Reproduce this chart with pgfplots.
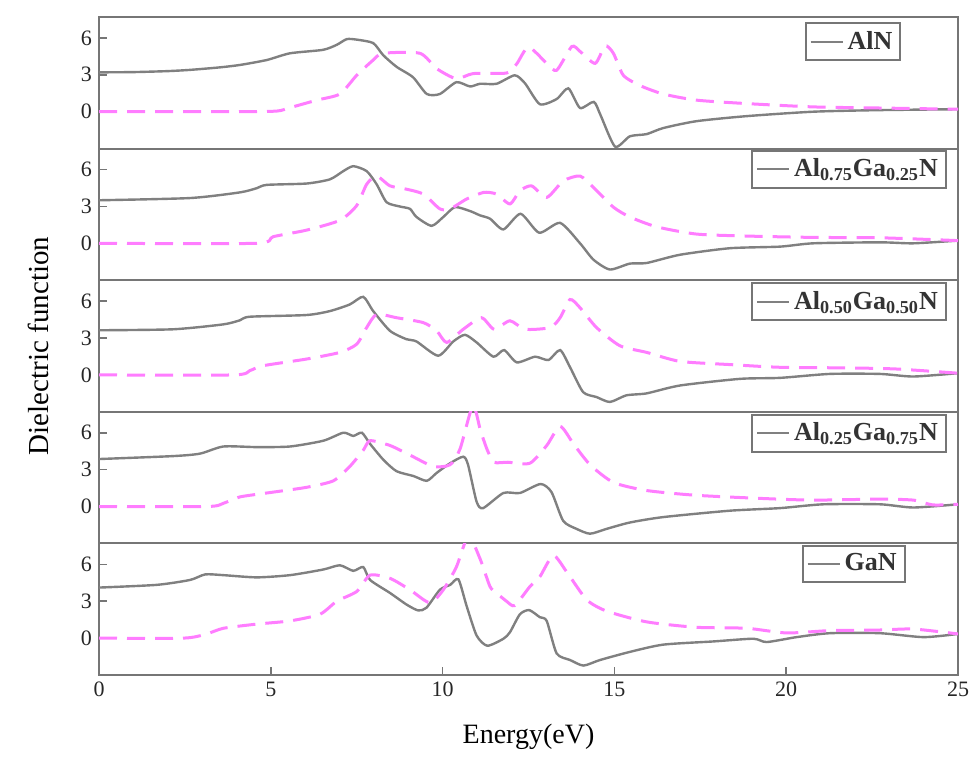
\documentclass[border=0pt]{standalone}
\usepackage{pgfplots}
\pgfplotsset{compat=1.18}
\usepgfplotslibrary{groupplots}
\usepackage{fontspec}
\setmainfont{Liberation Serif}
\definecolor{framegray}{RGB}{118,118,118}
\definecolor{solidgray}{RGB}{128,128,128}
\definecolor{lmag}{RGB}{255,125,255}
\pgfplotsset{
  solidline/.style={solidgray, line width=1.2pt, smooth, tension=0.4},
  dashline/.style={lmag, line width=1.5pt, dash pattern=on 9pt off 5pt, smooth, tension=0.4, forget plot},
}
\begin{document}
\begin{tikzpicture}
\begin{groupplot}[
  group style={group size=1 by 5, vertical sep=0pt, x descriptions at=edge bottom},
  width=429.5pt, height=65.8pt, scale only axis,
  xmin=0, xmax=25, ymin=-3, ymax=7.7,
  ytick={0,3,6}, xtick={0,5,10,15,20,25},
  tick align=inside, ytick pos=left, xtick pos=bottom,
  major tick length=4pt,
  axis line style={framegray, line width=1pt},
  tick style={framegray, line width=0.8pt},
  tick label style={font=\fontsize{11}{13}\selectfont, text=black!85},
  /pgf/number format/assume math mode=true,
  legend cell align=left,
  legend image code/.code={\draw[solidgray, line width=1pt] (0pt,0pt) -- (16pt,0pt);},
  legend style={draw=framegray, line width=1pt, font=\fontsize{13}{15}\selectfont\bfseries, text=black!80, anchor=north east, inner sep=2pt},
]
\nextgroupplot[xmajorticks=false, legend style={at={(rel axis cs:0.934,0.962)}}]
\addplot[solidline] coordinates {(0,3.2) (1,3.22) (2,3.3) (2.65,3.4) (3.5,3.6) (4.1,3.8) (4.88,4.2) (5.56,4.75) (6.52,5.03) (6.92,5.44) (7.21,5.9) (7.5,5.86) (7.98,5.58) (8.27,4.6) (8.66,3.65) (9.14,2.8) (9.54,1.44) (9.92,1.44) (10.4,2.4) (10.8,2.05) (11.09,2.27) (11.57,2.27) (12.1,2.96) (12.4,2.3) (12.83,0.61) (13.32,1.03) (13.66,1.9) (14.0,0.3) (14.4,0.8) (14.6,-0.3) (15.02,-2.84) (15.45,-2.0) (15.94,-1.82) (16.42,-1.33) (17.39,-0.77) (18.85,-0.36) (20.79,0) (22.73,0.13) (25,0.2)};
\addlegendentry{AlN}
\addplot[dashline] coordinates {(0,0) (2,0) (4,0) (5.17,0.05) (5.56,0.33) (6.34,0.94) (7.01,1.44) (7.5,2.96) (7.98,4.2) (8.27,4.75) (9.34,4.75) (9.83,3.5) (10.4,2.68) (10.89,3.1) (11.87,3.15) (12.16,3.9) (12.5,5.25) (13.03,3.93) (13.32,3.37) (13.76,5.3) (14.0,4.9) (14.44,3.93) (14.73,5.36) (14.97,4.75) (15.26,2.96) (15.74,2.13) (16.42,1.44) (17.39,0.94) (18.85,0.66) (20.79,0.39) (22.73,0.3) (25,0.2)};

\nextgroupplot[xmajorticks=false, legend style={at={(rel axis cs:0.987,0.99)}}]
\addplot[solidline] coordinates {(0,3.5) (2.65,3.68) (4.1,4.14) (4.59,4.48) (4.88,4.75) (6.04,4.86) (6.72,5.2) (7.11,5.87) (7.4,6.27) (7.79,5.87) (8.08,4.8) (8.37,3.34) (8.76,2.99) (9.05,2.8) (9.24,2.14) (9.68,1.42) (10.02,2.14) (10.36,2.94) (10.8,2.62) (11.09,2.27) (11.38,2.0) (11.77,1.13) (12.27,2.4) (12.81,0.86) (13.42,1.66) (14.0,0) (14.39,-1.33) (14.87,-2.13) (15.45,-1.65) (15.94,-1.6) (16.91,-0.93) (18.36,-0.4) (19.82,-0.27) (20.79,0) (22.73,0.08) (23.7,0.0) (25,0.22)};
\addlegendentry{Al\textsubscript{0.75}Ga\textsubscript{0.25}N}
\addplot[dashline] coordinates {(0,0) (4.57,0) (5.07,0.54) (6.04,1.07) (7.01,1.87) (7.5,3.07) (7.79,4.8) (8.08,5.47) (8.47,4.67) (8.95,4.4) (9.44,4.0) (9.92,2.8) (10.22,2.8) (10.7,3.6) (11.2,4.14) (11.57,4.0) (11.96,3.2) (12.25,4.27) (12.59,4.67) (13.03,3.73) (13.51,5.07) (14.0,5.47) (14.39,4.54) (14.97,2.94) (15.45,2.14) (16.23,1.34) (17.39,0.75) (18.85,0.59) (20.79,0.48) (22.73,0.45) (25,0.22)};

\nextgroupplot[xmajorticks=false, legend style={at={(rel axis cs:0.987,0.985)}}]
\addplot[solidline] coordinates {(0,3.63) (2.16,3.71) (3.62,4.11) (4.1,4.44) (4.39,4.73) (6.04,4.87) (6.72,5.19) (7.3,5.73) (7.69,6.35) (7.98,5.19) (8.47,3.58) (8.95,2.9) (9.24,2.72) (9.87,1.56) (10.31,2.72) (10.65,3.26) (10.99,2.64) (11.48,1.48) (11.79,2.02) (12.16,1.02) (12.69,1.48) (13.08,1.21) (13.42,2.02) (13.71,0.62) (14.09,-1.4) (14.48,-1.8) (14.87,-2.2) (15.35,-1.66) (15.94,-1.5) (16.91,-0.86) (18.66,-0.32) (19.82,-0.24) (21.27,0.08) (22.73,0.08) (23.7,-0.13) (25,0.14)};
\addlegendentry{Al\textsubscript{0.50}Ga\textsubscript{0.50}N}
\addplot[dashline] coordinates {(0,0) (3.91,0) (4.39,0.35) (4.78,0.75) (6.04,1.29) (7.01,1.83) (7.5,2.5) (7.79,3.85) (8.08,4.92) (8.66,4.65) (9.44,4.25) (9.83,3.58) (10.12,2.64) (10.6,3.71) (11.13,4.65) (11.5,3.71) (11.96,4.4) (12.4,3.71) (13.13,3.85) (13.42,4.65) (13.71,6.13) (14.0,5.46) (14.48,3.85) (15.16,2.37) (15.94,1.83) (16.91,1.1) (18.36,0.84) (19.82,0.62) (21.76,0.57) (23.21,0.48) (25,0.14)};

\nextgroupplot[xmajorticks=false, legend style={at={(rel axis cs:0.987,0.985)}}]
\addplot[solidline] coordinates {(0,3.86) (2.16,4.1) (2.94,4.3) (3.62,4.88) (4.59,4.83) (5.56,4.88) (6.53,5.35) (7.11,6.0) (7.4,5.74) (7.65,6.0) (7.89,5.09) (8.28,3.79) (8.66,2.87) (9.15,2.48) (9.54,2.09) (9.83,2.74) (10.22,3.52) (10.6,4.05) (10.74,3.4) (10.99,0.39) (11.18,-0.13) (11.77,1.1) (12.25,1.1) (12.85,1.83) (13.17,1.17) (13.51,-1.17) (13.9,-1.82) (14.29,-2.21) (14.77,-1.82) (15.45,-1.3) (16.42,-0.86) (18.36,-0.34) (19.82,-0.13) (21.08,0.18) (22.73,0.18) (23.7,-0.08) (25,0.18)};
\addlegendentry{Al\textsubscript{0.25}Ga\textsubscript{0.75}N}
\addplot[dashline] coordinates {(0,0) (3.14,0) (3.62,0.26) (4.1,0.78) (5.07,1.17) (6.04,1.56) (6.82,2.09) (7.3,3.26) (7.69,4.57) (7.89,5.35) (8.47,4.96) (9.05,4.18) (9.73,3.26) (10.22,3.4) (10.51,4.7) (10.88,8.2) (11.1,6.2) (11.3,4.6) (11.5,3.6) (11.9,3.6) (12.54,3.52) (13.03,4.96) (13.42,6.52) (13.81,5.09) (14.29,3.4) (14.97,1.96) (15.94,1.3) (17.39,0.91) (19.33,0.65) (20.79,0.52) (22.73,0.6) (23.7,0.52) (24.27,0.13) (25,0.18)};

\nextgroupplot[legend style={at={(rel axis cs:0.939,0.99)}}]
\addplot[solidline] coordinates {(0,4.11) (1.68,4.33) (2.65,4.73) (3.09,5.18) (3.62,5.12) (4.59,4.94) (5.56,5.12) (6.53,5.58) (7.01,5.92) (7.4,5.47) (7.69,5.78) (7.89,4.73) (8.47,3.67) (8.95,2.73) (9.29,2.25) (9.53,2.47) (9.92,3.93) (10.22,4.33) (10.46,4.78) (10.7,2.6) (10.99,0.21) (11.3,-0.62) (11.77,-0.05) (11.96,0.48) (12.25,1.94) (12.52,2.28) (12.83,1.7) (13.03,1.4) (13.32,-1.25) (13.71,-1.78) (14.1,-2.23) (14.58,-1.78) (15.45,-1.12) (16.42,-0.53) (17.88,-0.27) (19.04,-0.05) (19.43,-0.32) (20.3,0.08) (21.27,0.4) (22.73,0.4) (24.0,0.08) (25,0.34)};
\addlegendentry{GaN}
\addplot[dashline] coordinates {(0,0) (2.46,0) (3.13,0.34) (3.62,0.8) (4.59,1.14) (5.56,1.4) (6.43,1.94) (6.92,3.0) (7.5,3.79) (7.89,5.12) (8.47,4.86) (9.05,3.93) (9.63,2.87) (10.02,3.93) (10.4,5.78) (10.75,8.3) (11.09,6.45) (11.38,4.19) (11.57,3.67) (11.86,3.0) (12.1,2.65) (12.54,4.19) (12.83,4.99) (13.22,6.72) (13.61,5.39) (14.19,3.13) (14.77,2.2) (15.94,1.32) (17.39,0.88) (18.85,0.8) (20.01,0.42) (21.27,0.61) (22.73,0.66) (23.7,0.74) (25,0.34)};
\end{groupplot}
\node[rotate=90, font=\fontsize{14.5}{17}\selectfont] at ([xshift=-30.5pt]group c1r3.west) {Dielectric function};
\node[font=\fontsize{14}{17}\selectfont] at ([yshift=-31pt]group c1r5.south) {Energy(eV)};
\path ([xshift=-49.5pt,yshift=-40.5pt]group c1r5.south west) ([xshift=9.5pt,yshift=8.5pt]group c1r1.north east);
\end{tikzpicture}
\end{document}
